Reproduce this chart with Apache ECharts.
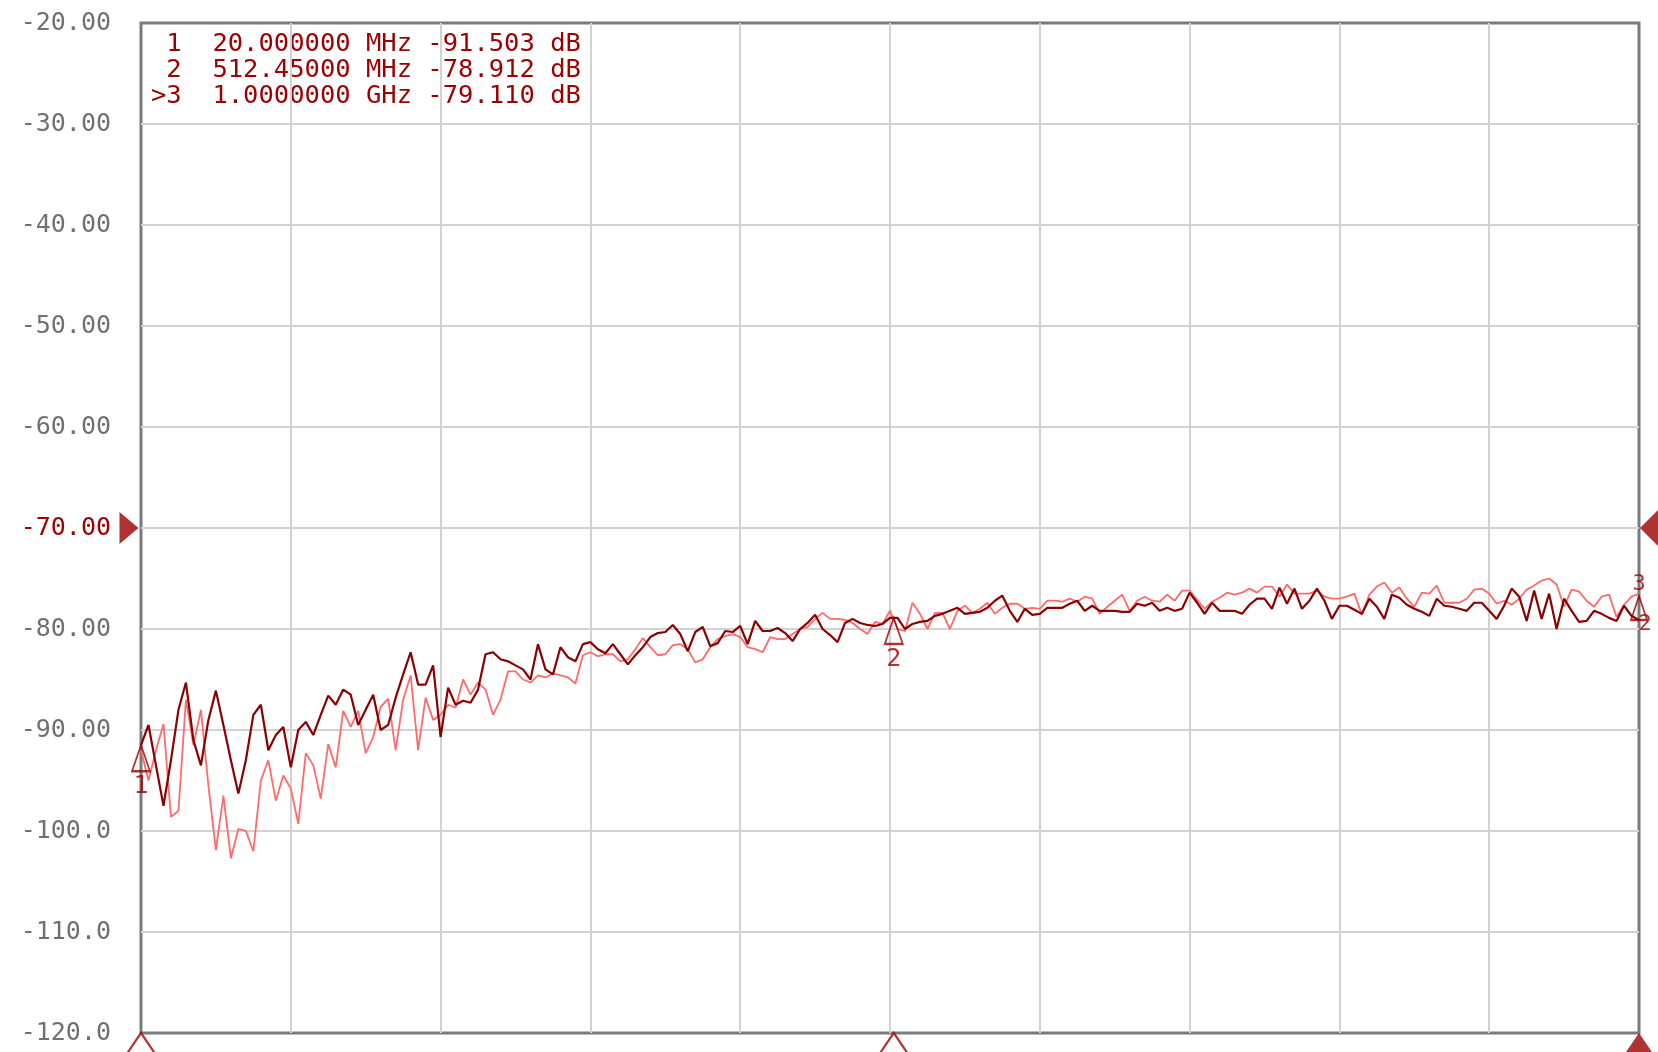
<!DOCTYPE html>
<html>
<head>
<meta charset="utf-8">
<script src="https://cdn.jsdelivr.net/npm/echarts@6/dist/echarts.min.js"></script>
<style>
html,body{margin:0;padding:0;background:#fff;}
#chart{width:1658px;height:1052px;}
</style>
</head>
<body>
<div id="chart"></div>
<script>
// Sweep: 201 points, 20 MHz .. 1000 MHz (x axis is the sweep point index)
const startMHz = 20;
const stopMHz = 1000;
const sweepPoints = 201;

const yMin = -120, yMax = -20, yStep = 10;
const refLevel = -70;

// Trace 1 (dark red)
const traceDark = [
 -91.5, -89.5, -93.5, -97.5, -93, -88, -85.3, -91, -93.5, -89,
 -86.1, -89.5, -93, -96.3, -93, -88.5, -87.5, -92, -90.5, -89.7,
 -93.7, -90, -89.2, -90.5, -88.5, -86.6, -87.5, -86, -86.5, -89.5,
 -88, -86.5, -90, -89.5, -86.8, -84.5, -82.3, -85.5, -85.5, -83.6,
 -90.7, -85.8, -87.5, -87.1, -87.3, -86, -82.5, -82.3, -83, -83.2,
 -83.6, -84, -85, -81.5, -84, -84.5, -81.8, -82.8, -83.2, -81.5,
 -81.3, -82, -82.4, -81.5, -82.5, -83.5, -82.6, -81.8, -80.8, -80.4,
 -80.3, -79.6, -80.5, -82.2, -80.3, -79.8, -81.7, -81.4, -80.2, -80.3,
 -79.7, -81.5, -79.2, -80.2, -80.2, -79.9, -80.4, -81.2, -80, -79.4,
 -78.6, -80, -80.6, -81.3, -79.4, -79, -79.4, -79.6, -79.7, -79.5,
 -78.9, -78.9, -80, -79.5, -79.3, -79.2, -78.7, -78.5, -78.2, -77.9,
 -78.5, -78.4, -78.3, -77.9, -77.2, -76.7, -78.2, -79.3, -78, -78.6,
 -78.5, -77.9, -77.9, -77.9, -77.5, -77.2, -78.2, -77.7, -78.2, -78.2,
 -78.2, -78.3, -78.3, -77.5, -77.7, -77.4, -78.2, -77.9, -78.2, -78,
 -76.4, -77.4, -78.5, -77.4, -78.2, -78.2, -78.2, -78.5, -77.6, -77,
 -77, -78, -75.9, -77.5, -76, -78, -77.2, -76, -77.2, -79,
 -77.7, -77.7, -78.1, -78.5, -77, -77.8, -79, -76.6, -76.9, -77.6,
 -78, -78.3, -78.7, -77, -77.7, -77.8, -78, -78.2, -77.4, -77.4,
 -78.2, -79, -77.7, -76, -76.8, -79.2, -76.2, -79, -76.5, -80,
 -77, -78.2, -79.3, -79.2, -78.2, -78.5, -78.9, -79.2, -77.7, -78.7,
 -79.1
];

// Trace 2 (light red)
const traceLight = [
 -92, -95, -92, -89.4, -98.6, -98, -87, -91.5, -88, -95.5,
 -101.9, -96.5, -102.7, -99.8, -100, -102, -95, -93, -97, -94.5,
 -95.8, -99.3, -92.3, -93.5, -96.8, -91.4, -93.7, -88.1, -89.7, -88.1,
 -92.3, -90.7, -87.7, -86.9, -92, -87, -84.6, -92, -86.8, -89,
 -88.5, -87.5, -87.8, -85, -86.5, -85.3, -86, -88.5, -87, -84.2,
 -84.2, -85, -85.3, -84.6, -84.8, -84.4, -84.6, -84.8, -85.4, -82.6,
 -82.3, -82.7, -82.5, -82.5, -83.2, -83, -82, -80.9, -81.8, -82.6,
 -82.5, -81.6, -81.5, -82, -83.3, -83, -81.8, -81, -80.7, -80.5,
 -80.8, -81.8, -82, -82.3, -80.8, -81, -81, -80.5, -80, -79.8,
 -79, -78.4, -79, -79, -79.1, -79.4, -80, -80.5, -79.3, -79.5,
 -78.2, -80, -80.2, -77.4, -78.5, -80, -78.4, -78.4, -80, -78.2,
 -77.7, -78.4, -78, -77.4, -78.5, -77.9, -77.5, -77.5, -78, -77.9,
 -78, -77.2, -77.2, -77.3, -77, -77.3, -76.8, -77, -78.5, -77.8,
 -77.2, -76.6, -78.2, -77.2, -76.8, -77.2, -77.3, -76.6, -77.2, -76.2,
 -76.2, -77.1, -78, -77.3, -76.9, -76.4, -76.6, -76.4, -76, -76.4,
 -75.8, -75.8, -76.8, -75.6, -76.5, -76.5, -76.5, -76.2, -76.8, -77,
 -77, -76.8, -76.5, -78.6, -76.6, -75.8, -75.4, -76.4, -75.9, -77,
 -77.8, -76.4, -76.5, -75.7, -77.4, -77.4, -77.4, -77, -76.1, -76,
 -76.5, -77.5, -77.2, -77.6, -77, -76.1, -75.7, -75.2, -75, -75.6,
 -77.8, -76.1, -76.3, -77.2, -77.8, -76.8, -76.6, -78.8, -77.6, -76.8,
 -76.5
];

// Markers
const markerNames = ['1', '2', '3'];
const markerFreqMHz = [20, 512.45, 1000];
const markerFreqText = ['20.000000 MHz', '512.45000 MHz', '1.0000000 GHz'];
const markerDb = [-91.503, -78.912, -79.110];
const activeMarker = 2;

const stepMHz = (stopMHz - startMHz) / (sweepPoints - 1);
const toIdx = f => (f - startMHz) / stepMHz;

const DARK = '#8b0000';
const LIGHT = '#ff6a6a';
const MRED = '#9c0000';
const FONT = '"DejaVu Sans Mono", "Liberation Mono", monospace';

const tableText = markerNames.map((n, k) =>
  (k === activeMarker ? '>' : ' ') + n + '  ' + markerFreqText[k] + ' ' + markerDb[k].toFixed(3) + ' dB'
).join('\n');

const chart = echarts.init(document.getElementById('chart'), null, {renderer: 'canvas'});

const markerPts = markerNames.map((n, k) => ({
  value: [toIdx(markerFreqMHz[k]), markerDb[k]],
  name: n
}));

const split = {show: true, showMinLine: false, showMaxLine: false, lineStyle: {color: '#d2d2d2', width: 2}};

const option = {
  animation: false,
  backgroundColor: '#ffffff',
  grid: {
    left: 141, right: 19, top: 23, bottom: 19,
    show: true, borderColor: '#7a7a7a', borderWidth: 3, backgroundColor: 'transparent'
  },
  xAxis: {
    type: 'value',
    min: 0, max: sweepPoints - 1, interval: (sweepPoints - 1) / 10,
    axisLine: {show: false},
    axisTick: {show: false},
    axisLabel: {show: false},
    splitLine: split
  },
  yAxis: {
    type: 'value',
    min: yMin, max: yMax, interval: yStep,
    axisLine: {show: false},
    axisTick: {show: false},
    axisLabel: {
      margin: 30,
      fontFamily: FONT,
      fontSize: 25,
      color: v => (Number(v) === refLevel ? MRED : '#707070'),
      formatter: v => (v <= -100 ? v.toFixed(1) : v.toFixed(2))
    },
    splitLine: split
  },
  graphic: [{
    type: 'text',
    left: 151, top: 31,
    style: {
      text: tableText,
      font: '25.5px ' + FONT,
      fill: MRED,
      lineHeight: 26
    }
  }],
  series: [
    {
      name: 'Trace 2', type: 'line', showSymbol: false, silent: true,
      data: traceLight.map((v, i) => [i, v]),
      lineStyle: {color: LIGHT, width: 1.8}, z: 2
    },
    {
      name: 'Trace 1', type: 'line', showSymbol: false, silent: true,
      data: traceDark.map((v, i) => [i, v]),
      lineStyle: {color: DARK, width: 2.2}, z: 3
    },
    // markers on trace (1 and 2: label below)
    {
      type: 'scatter', silent: true, z: 5, clip: false,
      data: markerPts.slice(0, 2),
      symbol: 'triangle', symbolSize: [18, 26], symbolOffset: [0, 13],
      itemStyle: {color: 'rgba(255,255,255,0)', borderColor: MRED, borderWidth: 2},
      label: {show: true, position: 'bottom', distance: 2, formatter: p => p.name,
        color: MRED, fontFamily: FONT, fontSize: 25}
    },
    // marker 3 at right edge (label above)
    {
      type: 'scatter', silent: true, z: 5, clip: false,
      data: markerPts.slice(2),
      symbol: 'triangle', symbolSize: [16, 24], symbolOffset: [0, -12],
      itemStyle: {color: 'rgba(255,255,255,0)', borderColor: MRED, borderWidth: 2},
      label: {show: true, position: 'top', distance: 0, formatter: p => p.name,
        color: MRED, fontFamily: FONT, fontSize: 22}
    },
    {
      type: 'scatter', silent: true, z: 5, clip: false,
      data: [{value: markerPts[2].value, name: markerNames[1]}],
      symbol: 'circle', symbolSize: 1, itemStyle: {color: 'rgba(0,0,0,0)'},
      label: {show: true, position: 'right', offset: [-6, 4], formatter: p => p.name,
        color: MRED, fontFamily: FONT, fontSize: 22}
    },
    // bottom stimulus markers (outlined)
    {
      type: 'scatter', silent: true, z: 6, clip: false,
      data: markerPts.slice(0, 2).map(p => [p.value[0], yMin]),
      symbol: 'triangle', symbolSize: [30, 22], symbolOffset: [0, 11],
      itemStyle: {color: '#ffffff', borderColor: MRED, borderWidth: 2}
    },
    // active marker on bottom (filled)
    {
      type: 'scatter', silent: true, z: 6, clip: false,
      data: [[markerPts[activeMarker].value[0], yMin]],
      symbol: 'triangle', symbolSize: [30, 22], symbolOffset: [0, 11],
      itemStyle: {color: MRED}
    },
    // reference level markers
    {
      type: 'scatter', silent: true, z: 6, clip: false,
      data: [[0, refLevel]],
      symbol: 'path://M0,0 L1,0.5 L0,1 Z', symbolSize: [19, 32], symbolKeepAspect: false,
      symbolOffset: [-12, 0],
      itemStyle: {color: MRED}
    },
    {
      type: 'scatter', silent: true, z: 6, clip: false,
      data: [[sweepPoints - 1, refLevel]],
      symbol: 'diamond', symbolSize: [40, 40], symbolOffset: [21, 0],
      itemStyle: {color: MRED}
    }
  ]
};
chart.setOption(option);
</script>
</body>
</html>
